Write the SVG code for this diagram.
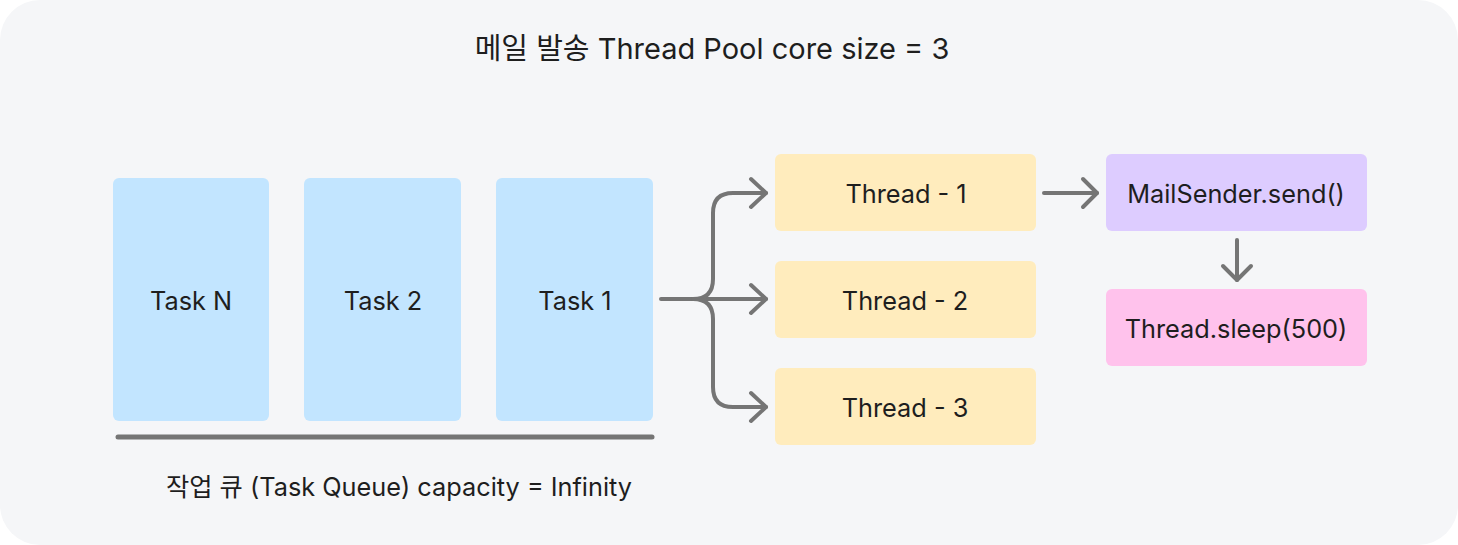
<svg xmlns="http://www.w3.org/2000/svg" width="1458" height="545" viewBox="0 0 1458 545">
<style>
.t{font-family:Inter,"Noto Sans","Noto Sans CJK KR",sans-serif;fill:#1E1E1E;text-anchor:middle;dominant-baseline:central}
.lbl{font-size:25.3px}
.ttl{font-size:29px}
.c{fill:none;stroke:#757575;stroke-width:4;stroke-linecap:round;stroke-linejoin:round}
</style>
<rect x="0" y="0" width="1458" height="545" fill="#FFFFFF"/>
<rect x="0" y="0" width="1458" height="545" rx="40" fill="#F5F6F8"/>
<text class="t ttl" x="712" y="48">메일 발송 Thread Pool core size = 3</text>
<g id="taskN"><rect x="113" y="178" width="156" height="243" rx="6" fill="#C2E5FF"/><text class="t lbl" x="191" y="300">Task N</text></g>
<g id="task2"><rect x="304" y="178" width="157" height="243" rx="6" fill="#C2E5FF"/><text class="t lbl" x="383" y="300">Task 2</text></g>
<g id="task1"><rect x="496" y="178" width="157" height="243" rx="6" fill="#C2E5FF"/><text class="t lbl" x="575" y="300">Task 1</text></g>
<g id="queue"><line x1="118" y1="437" x2="652" y2="437" stroke="#757575" stroke-width="5" stroke-linecap="round"/><text class="t lbl" x="399" y="486">작업 큐 (Task Queue) capacity = Infinity</text></g>
<g id="thread1"><rect x="775" y="154" width="261" height="77" rx="6" fill="#FFECBD"/><text class="t lbl" x="906" y="193">Thread - 1</text></g>
<g id="thread2"><rect x="775" y="261" width="261" height="77" rx="6" fill="#FFECBD"/><text class="t lbl" x="905" y="300">Thread - 2</text></g>
<g id="thread3"><rect x="775" y="368" width="261" height="77" rx="6" fill="#FFECBD"/><text class="t lbl" x="905" y="407">Thread - 3</text></g>
<g id="mailsender"><rect x="1106" y="154" width="261" height="77" rx="6" fill="#DDCCFF"/><text class="t lbl" x="1236" y="193">MailSender.send()</text></g>
<g id="sleep"><rect x="1106" y="289" width="261" height="77" rx="6" fill="#FFC2EC"/><text class="t lbl" x="1236" y="328">Thread.sleep(500)</text></g>
<g id="connectors">
<path class="c" d="M661 299 H766"/>
<path class="c" d="M751 285 L766 299 L751 313"/>
<path class="c" d="M693 299 Q713 299 713 279 V213 Q713 193 733 193 H766"/>
<path class="c" d="M751 179 L766 193 L751 207"/>
<path class="c" d="M693 299 Q713 299 713 319 V387 Q713 407 733 407 H766"/>
<path class="c" d="M751 393 L766 407 L751 421"/>
<path class="c" d="M1044 193 H1097"/>
<path class="c" d="M1083 179 L1097 193 L1083 207"/>
<path class="c" d="M1237 240 V280"/>
<path class="c" d="M1223 266 L1237 280 L1251 266"/>
</g>
</svg>
